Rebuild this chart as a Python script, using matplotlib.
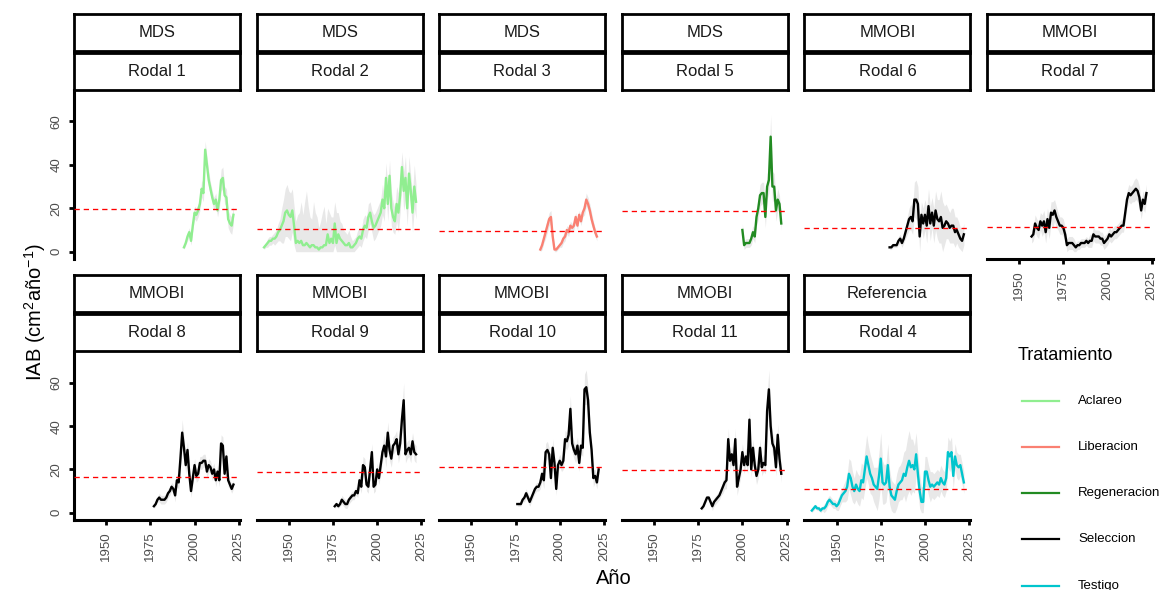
import numpy as np
import matplotlib
matplotlib.use("Agg")
import matplotlib.pyplot as plt
from matplotlib.lines import Line2D

plt.rcParams['font.family'] = ['Liberation Sans', 'DejaVu Sans']
plt.rcParams['mathtext.fontset'] = 'custom'
plt.rcParams['mathtext.rm'] = 'Liberation Sans'

# ---- data: annual basal area increment (IAB) per stand ----
rodal1_start = 1994
rodal1_iab = [2, 4, 7, 9, 5, 12, 18, 17, 19, 22, 29, 27, 47, 40, 33, 29, 25, 22, 24, 19,
              24, 33, 34, 26, 25, 15, 13, 12, 17]
rodal1_sd = [1, 1, 2, 2, 2, 2, 3, 3, 3, 3, 4, 4, 4, 4, 4, 3, 3, 3, 3, 3,
             4, 5, 5, 4, 4, 4, 4, 4, 4]

rodal2_start = 1936
rodal2_iab = [2, 3, 4, 5, 5, 6, 6, 7, 9, 10,
              12, 14, 18, 19, 17, 16, 19, 12, 4, 5,
              4, 5, 3, 3, 4, 3, 2, 3, 3, 2,
              2, 1, 2, 2, 3, 3, 8, 4, 6, 4,
              13, 4, 8, 6, 5, 4, 3, 3, 4, 2,
              2, 3, 4, 6, 7, 6, 10, 12, 11, 16,
              18, 14, 11, 12, 14, 16, 18, 24, 20, 34,
              22, 35, 20, 16, 14, 22, 18, 26, 39, 28,
              34, 20, 36, 28, 18, 30, 23]
rodal2_sd = [1, 1, 2, 2, 2, 2, 3, 3, 4, 5,
             8, 10, 11, 12, 11, 11, 10, 9, 10, 12,
             14, 18, 14, 20, 24, 18, 14, 12, 20, 16,
             14, 10, 12, 16, 18, 10, 12, 14, 10, 12,
             10, 14, 10, 8, 8, 6, 6, 5, 6, 5,
             3, 3, 3, 4, 4, 4, 5, 5, 5, 6,
             5, 5, 6, 6, 6, 6, 6, 7, 6, 7,
             8, 7, 8, 7, 6, 8, 9, 8, 7, 9,
             10, 8, 8, 7, 9, 10, 8]

rodal3_start = 1989
rodal3_iab = [1, 3, 6, 9, 12, 15, 16, 7, 1, 1, 2, 3, 4, 6, 7, 10, 9, 12, 11, 12,
              16, 12, 17, 14, 18, 20, 24, 22, 19, 15, 12, 9, 7]
rodal3_sd = [1, 2, 2, 3, 3, 3, 3, 2, 1, 1, 1, 1, 2, 2, 2, 2, 2, 2, 2, 2,
             2, 2, 2, 2, 2, 3, 3, 3, 3, 3, 2, 2, 2]

rodal5_start = 2000
rodal5_iab = [10, 3, 4, 4, 4, 6, 9, 7, 16, 20, 26, 27, 27, 16, 30, 33, 53, 30, 30, 19,
              24, 22, 13]
rodal5_sd = [3, 2, 2, 2, 2, 3, 3, 3, 4, 5, 5, 5, 5, 5, 6, 6, 10, 7, 6, 5, 5, 4, 3]

rodal6_start = 1980
rodal6_iab = [2, 2, 3, 3, 3, 5, 6, 4, 6, 9,
              12, 15, 16, 14, 24, 24, 22, 7, 17, 13,
              17, 12, 21, 13, 18, 12, 19, 15, 14, 16,
              11, 12, 14, 13, 11, 12, 12, 9, 10, 8, 6, 5, 8]
rodal6_sd = [1, 1, 1, 1, 1, 2, 2, 2, 2, 3,
             4, 5, 6, 6, 8, 9, 8, 7, 6, 7,
             7, 8, 8, 8, 7, 8, 9, 9, 10, 12,
             12, 9, 8, 7, 7, 8, 8, 7, 6, 6, 5, 5, 5]

rodal7_start = 1957
rodal7_iab = [7, 8, 13, 11, 10, 14, 12, 14, 9, 15,
              11, 18, 17, 19, 16, 14, 12, 12, 11, 8,
              3, 4, 4, 4, 3, 2, 3, 3, 4, 4,
              4, 5, 4, 5, 5, 8, 7, 7, 7, 6,
              6, 4, 5, 6, 8, 7, 8, 9, 9, 10,
              11, 12, 12, 18, 24, 27, 26, 27, 28, 29,
              28, 25, 19, 24, 22, 27]
rodal7_sd = [3, 3, 4, 4, 4, 4, 5, 5, 5, 5,
             5, 5, 6, 5, 5, 4, 4, 4, 4, 3,
             3, 3, 3, 3, 3, 2, 2, 2, 2, 2,
             2, 2, 2, 3, 3, 3, 3, 3, 3, 3,
             3, 3, 3, 3, 3, 3, 3, 3, 3, 3,
             3, 3, 3, 4, 4, 4, 4, 4, 5, 5,
             5, 5, 4, 4, 4, 4]

rodal8_start = 1977
rodal8_iab = [3, 4, 6, 7, 6, 6, 6, 7, 9, 10,
              12, 11, 8, 15, 14, 25, 37, 30, 22, 29,
              18, 10, 16, 22, 17, 18, 23, 23, 24, 24,
              19, 22, 21, 18, 20, 15, 19, 15, 32, 31,
              18, 26, 15, 13, 11, 13]
rodal8_sd = [1, 1, 1, 2, 2, 2, 2, 2, 2, 2,
             2, 2, 3, 3, 3, 5, 6, 5, 4, 4,
             3, 3, 3, 3, 3, 3, 3, 3, 3, 3,
             3, 3, 3, 3, 3, 3, 3, 3, 4, 4,
             3, 3, 3, 2, 2, 2]

rodal9_start = 1976
rodal9_iab = [3, 4, 3, 4, 6, 5, 4, 4, 6, 7,
              8, 8, 10, 9, 15, 12, 22, 21, 13, 12,
              20, 28, 12, 13, 20, 16, 22, 28, 31, 26,
              37, 29, 25, 31, 32, 34, 27, 32, 43, 52,
              27, 29, 30, 27, 33, 28, 27]
rodal9_sd = [1, 1, 1, 1, 2, 2, 2, 2, 2, 2,
             2, 2, 2, 2, 3, 3, 4, 4, 3, 3,
             3, 4, 3, 3, 3, 3, 4, 4, 5, 5,
             5, 5, 4, 4, 4, 4, 4, 5, 6, 8,
             4, 4, 4, 4, 4, 4, 4]

rodal10_start = 1976
rodal10_iab = [4, 4, 4, 6, 7, 9, 7, 5, 7, 9,
               11, 12, 12, 14, 18, 15, 28, 29, 27, 16,
               30, 23, 11, 22, 24, 22, 24, 34, 33, 36,
               48, 32, 29, 27, 31, 23, 31, 30, 57, 58,
               52, 37, 29, 16, 17, 14, 20]
rodal10_sd = [1, 1, 1, 1, 2, 2, 2, 2, 2, 2,
              2, 2, 2, 3, 3, 4, 4, 4, 3, 3,
              4, 4, 3, 3, 3, 3, 4, 4, 4, 5,
              6, 4, 4, 4, 4, 4, 4, 4, 7, 8,
              6, 5, 4, 4, 3, 3, 3]

rodal11_start = 1977
rodal11_iab = [2, 3, 5, 7, 7, 5, 3, 5, 6, 7,
               8, 10, 12, 14, 15, 34, 24, 27, 22, 34,
               12, 16, 20, 28, 22, 26, 22, 43, 20, 30,
               22, 17, 20, 30, 21, 23, 22, 47, 57, 40,
               32, 30, 21, 36, 25, 18]
rodal11_sd = [1, 1, 1, 1, 1, 1, 2, 2, 2, 2,
              2, 2, 3, 3, 4, 5, 4, 4, 4, 5,
              4, 4, 4, 4, 4, 4, 4, 5, 4, 4,
              4, 4, 4, 4, 4, 4, 4, 7, 9, 6,
              5, 4, 4, 5, 4, 4]

rodal4_start = 1936
rodal4_iab = [1, 2, 3, 2, 2, 1, 2, 2, 3, 5,
              6, 5, 4, 4, 3, 4, 6, 8, 9, 10,
              12, 18, 16, 12, 10, 13, 11, 10, 15, 14,
              20, 26, 22, 18, 16, 13, 12, 11, 17, 25,
              14, 13, 14, 22, 12, 8, 7, 6, 10, 13,
              14, 15, 18, 17, 21, 24, 21, 22, 20, 27,
              18, 10, 5, 5, 19, 19, 15, 12, 13, 12,
              13, 14, 13, 16, 14, 13, 16, 28, 26, 28,
              17, 26, 22, 21, 22, 18, 14]
rodal4_sd = [1, 1, 1, 1, 1, 1, 1, 2, 2, 2,
             2, 2, 2, 2, 2, 3, 3, 3, 4, 5,
             6, 7, 8, 7, 6, 7, 7, 7, 8, 8,
             9, 10, 9, 9, 8, 8, 9, 10, 11, 12,
             10, 9, 9, 10, 8, 7, 7, 7, 8, 8,
             8, 9, 10, 12, 13, 14, 13, 12, 11, 10,
             9, 8, 7, 7, 7, 7, 7, 7, 6, 6,
             6, 6, 6, 6, 6, 6, 6, 7, 7, 7,
             6, 6, 6, 6, 5, 5, 5]

# panel order, facet labels and treatment of each stand
groups = ["MDS", "MDS", "MDS", "MDS", "MMOBI", "MMOBI",
          "MMOBI", "MMOBI", "MMOBI", "MMOBI", "Referencia"]
rodales = ["Rodal 1", "Rodal 2", "Rodal 3", "Rodal 5", "Rodal 6", "Rodal 7",
           "Rodal 8", "Rodal 9", "Rodal 10", "Rodal 11", "Rodal 4"]
tratamientos = ["Aclareo", "Aclareo", "Liberacion", "Regeneracion", "Seleccion", "Seleccion",
                "Seleccion", "Seleccion", "Seleccion", "Seleccion", "Testigo"]
starts = [rodal1_start, rodal2_start, rodal3_start, rodal5_start, rodal6_start, rodal7_start,
          rodal8_start, rodal9_start, rodal10_start, rodal11_start, rodal4_start]
series = [rodal1_iab, rodal2_iab, rodal3_iab, rodal5_iab, rodal6_iab, rodal7_iab,
          rodal8_iab, rodal9_iab, rodal10_iab, rodal11_iab, rodal4_iab]
spreads = [rodal1_sd, rodal2_sd, rodal3_sd, rodal5_sd, rodal6_sd, rodal7_sd,
           rodal8_sd, rodal9_sd, rodal10_sd, rodal11_sd, rodal4_sd]
# mean IAB of each stand (dashed reference line)
mean_iab = [19.7, 10.5, 9.6, 18.8, 11.1, 11.3, 16.5, 18.9, 21.1, 19.6, 11.1]

legend_labels = ["Aclareo", "Liberacion", "Regeneracion", "Seleccion", "Testigo"]
legend_colors = ["#90EE90", "#FA8072", "#228B22", "#000000", "#00C5CD"]
color_of = dict(zip(legend_labels, legend_colors))

x_ticks = [1950, 1975, 2000, 2025]
y_ticks = [0, 20, 40, 60]

# ---- layout (pixel geometry of a 1161x590 canvas) ----
W, H = 1161, 590
fig = plt.figure(figsize=(W / 100, H / 100), dpi=100)


def fx(px):
    return px / W


def fy(py):
    return 1 - py / H


PANEL_W = 166
COL_STEP = 182.6
COL0 = 74
strip_tops = [14, 275]
plot_tops = [90, 351.5]
plot_bottoms = [258.5, 519.5]
BOX_H = 37
BOX_GAP = 2

for i in range(len(rodales)):
    r, c = divmod(i, 6)
    left = COL0 + c * COL_STEP
    ax = fig.add_axes([fx(left), fy(plot_bottoms[r]), PANEL_W / W,
                       (plot_bottoms[r] - plot_tops[r]) / H])
    years = np.arange(starts[i], starts[i] + len(series[i]))
    vals = np.array(series[i], dtype=float)
    sd = np.array(spreads[i], dtype=float)
    lo = np.clip(vals - sd, 0, None)
    hi = vals + sd
    ax.fill_between(years, lo, hi, color="#d9d9d9", alpha=0.6, lw=0)
    ax.plot(years, vals, color=color_of[tratamientos[i]], lw=1.7, zorder=3,
            solid_joinstyle="round")
    ax.axhline(mean_iab[i], color="red", lw=0.95, ls=(0, (4, 3)), zorder=4)
    ax.set_xlim(1931.8, 2025.7)
    ax.set_ylim(-3.14, 74.5)
    ax.set_facecolor("none")
    for s in ax.spines.values():
        s.set_visible(False)

    show_x = (r == 1) or (r == 0 and c == 5)
    show_y = (c == 0)
    ax.set_xticks(x_ticks)
    ax.set_yticks(y_ticks)
    if show_x:
        ax.spines["bottom"].set_visible(True)
        ax.spines["bottom"].set_linewidth(2.2)
        ax.tick_params(axis="x", length=3.5, width=2.0, color="black",
                       labelsize=9.5, labelcolor="#4D4D4D", labelrotation=90, pad=5)
    else:
        ax.tick_params(axis="x", length=0, labelbottom=False)
    if show_y:
        ax.spines["left"].set_visible(True)
        ax.spines["left"].set_linewidth(2.2)
        ax.tick_params(axis="y", length=3.5, width=2.0, color="black",
                       labelsize=9.5, labelcolor="#4D4D4D", labelrotation=90, pad=5)
        for lbl in ax.get_yticklabels():
            lbl.set_va("center")
    else:
        ax.tick_params(axis="y", length=0, labelleft=False)

    # two stacked facet strips
    for k, txt in enumerate([groups[i], rodales[i]]):
        top = strip_tops[r] + k * (BOX_H + BOX_GAP)
        sax = fig.add_axes([fx(left), fy(top + BOX_H), PANEL_W / W, BOX_H / H])
        sax.set_xticks([])
        sax.set_yticks([])
        for s in sax.spines.values():
            s.set_linewidth(2.0)
            s.set_color("black")
        sax.text(0.5, 0.5, txt, ha="center", va="center", fontsize=12,
                 color="#1A1A1A", transform=sax.transAxes)

# axis titles
fig.text(fx(614), fy(578), "Año", ha="center", va="center", fontsize=14.5, color="black")
fig.text(fx(35), fy(312), r"IAB (cm$^{\mathregular{2}}$año$^{\mathregular{-1}}$)",
         ha="center", va="center", rotation=90, fontsize=14.5, color="black")

# legend
fig.text(fx(1018), fy(355), "Tratamiento", ha="left", va="center", fontsize=13)
legend_y = [401, 447.3, 493.3, 539.3, 585.7]
for lab, col, yy in zip(legend_labels, legend_colors, legend_y):
    fig.add_artist(Line2D([fx(1022), fx(1058.7)], [fy(yy), fy(yy)],
                          transform=fig.transFigure, color=col, lw=1.6))
    fig.text(fx(1078), fy(yy), lab, ha="left", va="center", fontsize=9.5)

fig.savefig("out.png", dpi=100)
